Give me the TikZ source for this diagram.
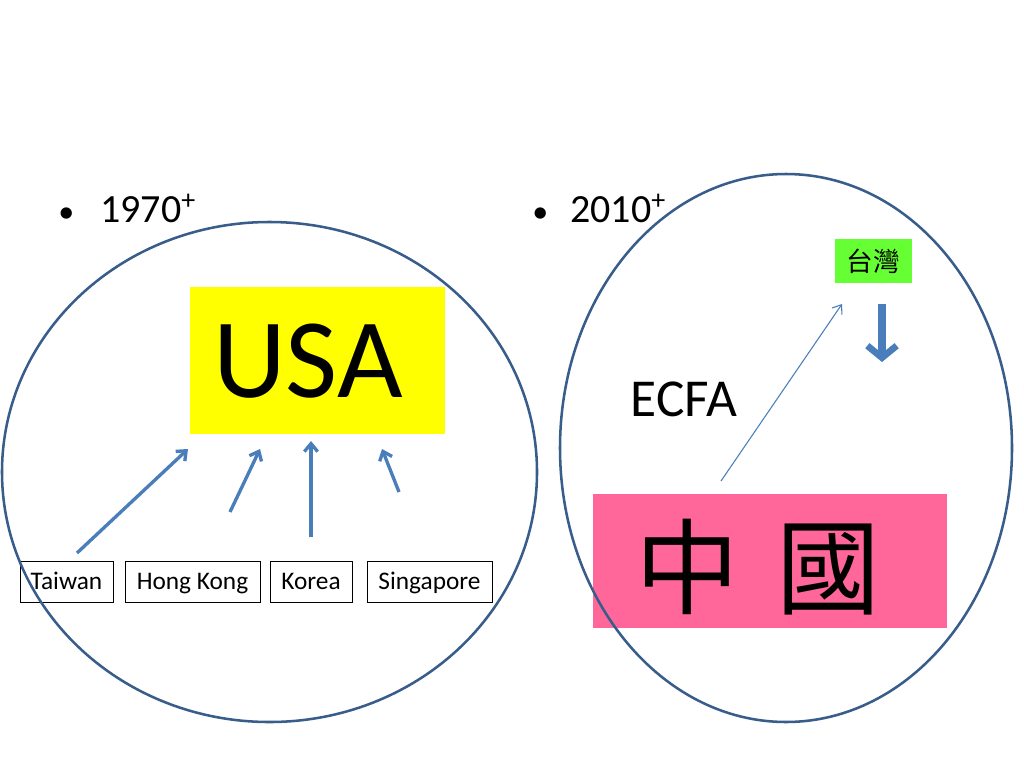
\documentclass[tikz,border=0pt]{standalone}
\usepackage{fontspec}
\setmainfont{Carlito}
\newfontfamily\cjk{Noto Sans CJK TC}
\usetikzlibrary{arrows.meta}
\definecolor{ringblue}{HTML}{385D8A}
\definecolor{arrblue}{HTML}{4A7EBB}
\definecolor{usayellow}{HTML}{FFFF00}
\definecolor{cnpink}{HTML}{FF6699}
\definecolor{twgreen}{HTML}{66FF33}
\begin{document}
\begin{tikzpicture}[x=0.75pt,y=-0.75pt,
  ring/.style={draw=ringblue,line width=1.9pt},
  lbl/.style={draw=black,line width=0.6pt,inner sep=0pt,minimum height=30.75pt,text height=15pt,text depth=3pt,font=\fontsize{19}{19}\selectfont},
  arr/.style={draw=arrblue,line width=2.5pt,-{Straight Barb[length=6pt,width=10pt,line width=2.5pt]}},
  thinarr/.style={draw=arrblue,line width=0.8pt,-{Straight Barb[length=6pt,width=9pt,line width=0.8pt]}},
  bigarr/.style={draw=arrblue,line width=6pt,-{Straight Barb[length=9pt,width=22pt,line width=5pt]}},
  bullet/.style={anchor=base west,inner sep=0pt,font=\fontsize{30}{30}\selectfont}]
\useasboundingbox (0,0) rectangle (1024,768);
\fill[white] (0,0) rectangle (1024,768);

% bullets
\node[bullet] (b1dot) at (58,222) {\fontsize{24}{24}\selectfont •};
\node[bullet] (b1) at (100,222) {1970\textsuperscript{+}};
\node[bullet] (b2dot) at (532,222) {\fontsize{24}{24}\selectfont •};
\node[bullet] (b2) at (570,222) {2010\textsuperscript{+}};

% left: USA
\node[fill=usayellow,minimum width=191.25pt,minimum height=110.25pt,inner sep=0pt] (usa) at (317.5,360.5) {};
\node[anchor=base,inner sep=0pt,font=\fontsize{85}{85}\selectfont] (usatxt) at (308,397) {USA};

\node[lbl,minimum width=69.75pt] (tw) at (66.5,581.5) {Taiwan};
\node[lbl,minimum width=101.25pt] (hk) at (192.5,581.5) {Hong Kong};
\node[lbl,minimum width=61.5pt] (kr) at (311,581.5) {Korea};
\node[lbl,minimum width=93.75pt] (sg) at (429.5,581.5) {Singapore};

\coordinate (twS) at (77,553);   \coordinate (twE) at (188,449);
\coordinate (hkS) at (230,512);  \coordinate (hkE) at (260,449);
\coordinate (krS) at (311,537);  \coordinate (krE) at (311,441);
\coordinate (sgS) at (399,492);  \coordinate (sgE) at (382,449);
\draw[arr] (twS) -- (twE);
\draw[arr] (hkS) -- (hkE);
\draw[arr] (krS) -- (krE);
\draw[arr] (sgS) -- (sgE);

% right: China / Taiwan
\node[fill=twgreen,minimum width=57.75pt,minimum height=33pt,inner sep=0pt,font=\cjk\fontsize{20}{20}\selectfont] (taiwan) at (873.5,261) {台灣};
\node[fill=cnpink,minimum width=265.5pt,minimum height=100.5pt,inner sep=0pt] (china) at (770,561) {};
\node[inner sep=0pt,font=\cjk\fontsize{78}{78}\selectfont] (chinatxt) at (758,567) {中\hspace{0.35em}國};
\node[anchor=base,inner sep=0pt,font=\fontsize{40}{40}\selectfont] (ecfa) at (684,416) {ECFA};

\coordinate (ecS) at (721,481); \coordinate (ecE) at (842,304);
\draw[thinarr] (ecS) -- (ecE);
\coordinate (dnS) at (882,304); \coordinate (dnE) at (882,362);
\draw[bigarr] (dnS) -- (dnE);

% rings
\draw[ring] (269.5,472) ellipse (267.5 and 250);
\draw[ring] (786,448) ellipse (226 and 274);
\end{tikzpicture}
\end{document}
